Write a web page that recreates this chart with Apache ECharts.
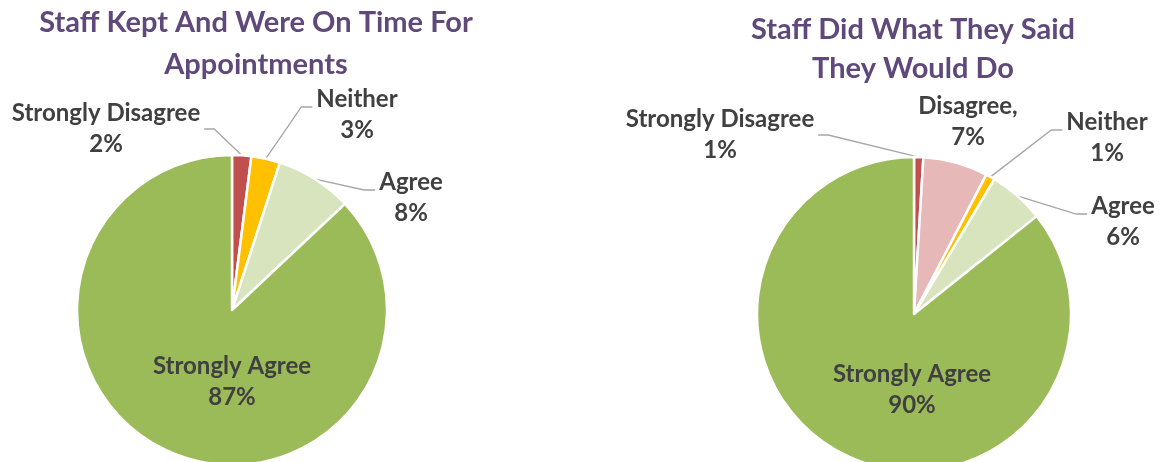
<!DOCTYPE html>
<html>
<head>
<meta charset="utf-8">
<script src="https://cdn.jsdelivr.net/npm/echarts@6/dist/echarts.min.js"></script>
<style>
html, body { margin: 0; padding: 0; background: #fff; }
#chart { width: 1161px; height: 462px; }
</style>
</head>
<body>
<div id="chart"></div>
<script>
var leftTitle = 'Staff Kept And Were On Time For\nAppointments';
var leftNames = ['Strongly Disagree', 'Neither', 'Agree', 'Strongly Agree'];
var leftValues = [2, 3, 8, 87];
var leftColors = ['#c0504d', '#ffc000', '#d7e4bd', '#9bbb59'];

var rightTitle = 'Staff Did What They Said\nThey Would Do';
var rightNames = ['Strongly Disagree', 'Disagree,', 'Neither', 'Agree', 'Strongly Agree'];
var rightValues = [1, 7, 1, 6, 90];
var rightColors = ['#c0504d', '#e6b9b8', '#ffc000', '#d7e4bd', '#9bbb59'];

var FONT = 'Lato';

// where each label block sits (centre x, centre y, side of the leader line)
var labelSpots = [
    [[106, 129, 'right'], [357, 115, 'left'], [411, 198, 'left'], [232, 382, 'none']],
    [[720, 135, 'right'], [968, 122, 'none'], [1107, 138, 'left'], [1123, 222, 'left'], [912, 390, 'none']]
];

function buildData(names, values, colors, spots) {
    return names.map(function (n, i) {
        var item = {name: n, value: values[i], itemStyle: {color: colors[i]}};
        if (spots[i][2] === 'none') {
            item.labelLine = {show: false};
        }
        return item;
    });
}

var pieLabel = {
    show: true,
    position: 'outside',
    formatter: '{b}\n{c}%',
    color: '#404040',
    fontFamily: FONT,
    fontWeight: 'bold',
    fontSize: 24,
    lineHeight: 31,
    align: 'center',
    overflow: 'none'
};

function placeLabel(params) {
    var s = labelSpots[params.seriesIndex][params.dataIndex];
    var out = {x: s[0], y: s[1], align: 'center', verticalAlign: 'middle'};
    var pts = params.labelLinePoints;
    if (s[2] !== 'none' && pts) {
        var w = params.labelRect.width;
        var ex, ey, kx;
        if (s[2] === 'left') {
            ex = s[0] - w / 2 - 4; ey = s[1] - 8; kx = ex - 11;
        } else {
            ex = s[0] + w / 2 + 4; ey = s[1]; kx = ex + 10;
        }
        out.labelLinePoints = [pts[0], [kx, ey], [ex, ey]];
    }
    return out;
}

var option = {
    animation: false,
    title: [
        {
            text: leftTitle,
            left: 256, top: 2, textAlign: 'center', padding: 0,
            textStyle: {color: '#5f497a', fontFamily: FONT, fontWeight: 'bold', fontSize: 29, lineHeight: 42}
        },
        {
            text: rightTitle,
            left: 913, top: 10, textAlign: 'center', padding: 0,
            textStyle: {color: '#5f497a', fontFamily: FONT, fontWeight: 'bold', fontSize: 29, lineHeight: 39}
        }
    ],
    series: [
        {
            type: 'pie',
            center: [232, 310],
            radius: 155,
            startAngle: 90,
            clockwise: true,
            itemStyle: {borderColor: '#fff', borderWidth: 2.5},
            label: pieLabel,
            labelLine: {show: true, length: 10, length2: 10, lineStyle: {color: '#a6a6a6', width: 1.3}},
            labelLayout: placeLabel,
            data: buildData(leftNames, leftValues, leftColors, labelSpots[0])
        },
        {
            type: 'pie',
            center: [914, 314],
            radius: 157,
            startAngle: 90,
            clockwise: true,
            itemStyle: {borderColor: '#fff', borderWidth: 2.5},
            label: pieLabel,
            labelLine: {show: true, length: 10, length2: 10, lineStyle: {color: '#a6a6a6', width: 1.3}},
            labelLayout: placeLabel,
            data: buildData(rightNames, rightValues, rightColors, labelSpots[1])
        }
    ]
};

var myChart = echarts.init(document.getElementById('chart'));
myChart.setOption(option);
</script>
</body>
</html>
